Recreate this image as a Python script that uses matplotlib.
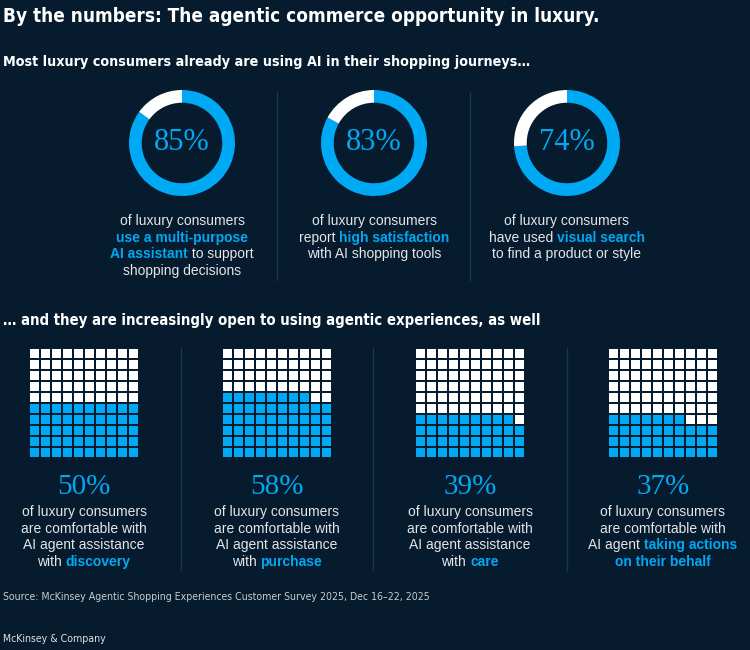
import matplotlib
matplotlib.use("Agg")
import matplotlib.pyplot as plt
from matplotlib import font_manager
from matplotlib.patches import Rectangle

# --- data ---
donut_values = [85, 83, 74]
donut_captions = [
    [[("of luxury consumers", False)],
     [("use a multi-purpose", True)],
     [("AI assistant", True), (" to support", False)],
     [("shopping decisions", False)]],
    [[("of luxury consumers", False)],
     [("report ", False), ("high satisfaction", True)],
     [("with AI shopping tools", False)]],
    [[("of luxury consumers", False)],
     [("have used ", False), ("visual search", True)],
     [("to find a product or style", False)]],
]
waffle_values = [50, 58, 39, 37]
waffle_captions = [
    [[("of luxury consumers", False)], [("are comfortable with", False)],
     [("AI agent assistance", False)], [("with ", False), ("discovery", True)]],
    [[("of luxury consumers", False)], [("are comfortable with", False)],
     [("AI agent assistance", False)], [("with ", False), ("purchase", True)]],
    [[("of luxury consumers", False)], [("are comfortable with", False)],
     [("AI agent assistance", False)], [("with ", False), ("care", True)]],
    [[("of luxury consumers", False)], [("are comfortable with", False)],
     [("AI agent ", False), ("taking actions", True)], [("on their behalf", True)]],
]
title = "By the numbers: The agentic commerce opportunity in luxury."
subtitle1 = "Most luxury consumers already are using AI in their shopping journeys…"
subtitle2 = "… and they are increasingly open to using agentic experiences, as well"
source = "Source: McKinsey Agentic Shopping Experiences Customer Survey 2025, Dec 16–22, 2025"
footer = "McKinsey & Company"

# --- style ---
BG = "#061b2d"
BLUE = "#00a9f4"
TXT = "#e4e6e8"
SEP = "#1c3650"
W, H = 750, 650
BODY = ["Liberation Sans", "DejaVu Sans"]
SERIF = ["Liberation Serif", "DejaVu Serif"]

# condensed face for headings if one is around
cond = [f for f in font_manager.fontManager.ttflist
        if f.name == "DejaVu Sans" and "ondensed" in str(f.stretch) + f.fname]
HEAD = dict(family=["DejaVu Sans"], stretch="condensed") if cond else dict(family=["Roboto", "DejaVu Sans"])

fig = plt.figure(figsize=(W / 100, H / 100), dpi=100, facecolor=BG)
renderer = fig.canvas.get_renderer()


def fx(x):
    return x / W


def fy(y):
    return 1 - y / H


def rich_line(cx, y, parts, size=10):
    """Centered line made of plain and highlighted pieces."""
    texts = []
    for s, hl in parts:
        t = fig.text(0, fy(y), s, fontsize=size, va="center", ha="left",
                     color=BLUE if hl else TXT,
                     weight="bold" if hl else "normal", family=BODY)
        texts.append(t)
    widths = [t.get_window_extent(renderer).width for t in texts]
    x = cx - sum(widths) / 2
    for t, w in zip(texts, widths):
        t.set_x(fx(x))
        x += w


def fit_text(x, y, s, target, size, **kw):
    """Left-aligned text sized so it spans about `target` pixels."""
    t = fig.text(fx(x), fy(y), s, fontsize=size, va="center", ha="left", **kw)
    w = t.get_window_extent(renderer).width
    t.set_fontsize(size * target / w)
    return t


def vline(x, y0, y1):
    fig.add_artist(plt.Line2D([fx(x), fx(x)], [fy(y0), fy(y1)],
                              color=SEP, lw=1, transform=fig.transFigure))


# header texts
fit_text(3, 17, title, 598, 14, color="white", weight="bold", **HEAD)
fit_text(3, 62, subtitle1, 525, 11, color="white", weight="bold", **HEAD)
fit_text(3, 321, subtitle2, 539, 11, color="white", weight="bold", **HEAD)
fit_text(3, 597, source, 426, 8, color="#c9ccd0", **HEAD)
fit_text(3, 639, footer, 103, 8, color="#e0e2e4", **HEAD)

# --- donuts ---
donut_x = [182, 374, 567]
donut_y = 143
r = 53
for cx, v, cap in zip(donut_x, donut_values, donut_captions):
    ax = fig.add_axes([fx(cx - r), fy(donut_y + r), 2 * r / W, 2 * r / H])
    ax.pie([v, 100 - v], colors=[BLUE, "white"], startangle=90,
           counterclock=False, wedgeprops=dict(width=0.24, linewidth=0))
    ax.set_xlim(-1, 1)
    ax.set_ylim(-1, 1)
    ax.set_facecolor(BG)
    ax.text(0, 0, f"{v}%", color=BLUE, fontsize=22, family=SERIF,
            ha="center", va="center")
    for i, line in enumerate(cap):
        rich_line(cx, 221 + i * 16.7, line)

vline(277, 92, 280)
vline(470, 92, 280)

# --- waffles ---
waffle_x = [84, 277, 470, 663]
side = 110
gap = 0.14
for cx, v, cap in zip(waffle_x, waffle_values, waffle_captions):
    ax = fig.add_axes([fx(cx - side / 2), fy(348 + side), side / W, side / H])
    ax.set_xlim(0, 10)
    ax.set_ylim(0, 10)
    ax.axis("off")
    for i in range(100):
        row, col = divmod(i, 10)
        ax.add_patch(Rectangle((col + gap / 2, row + gap / 2), 1 - gap, 1 - gap,
                               facecolor=BLUE if i < v else "white",
                               edgecolor="none"))
    fig.text(fx(cx), fy(487), f"{v}%", color=BLUE, fontsize=21, family=SERIF,
             ha="center", va="center")
    for i, line in enumerate(cap):
        rich_line(cx, 512 + i * 16.7, line)

for x in [180.5, 373, 567]:
    vline(x, 348, 570)

fig.savefig("out.png", dpi=100, facecolor=BG)
